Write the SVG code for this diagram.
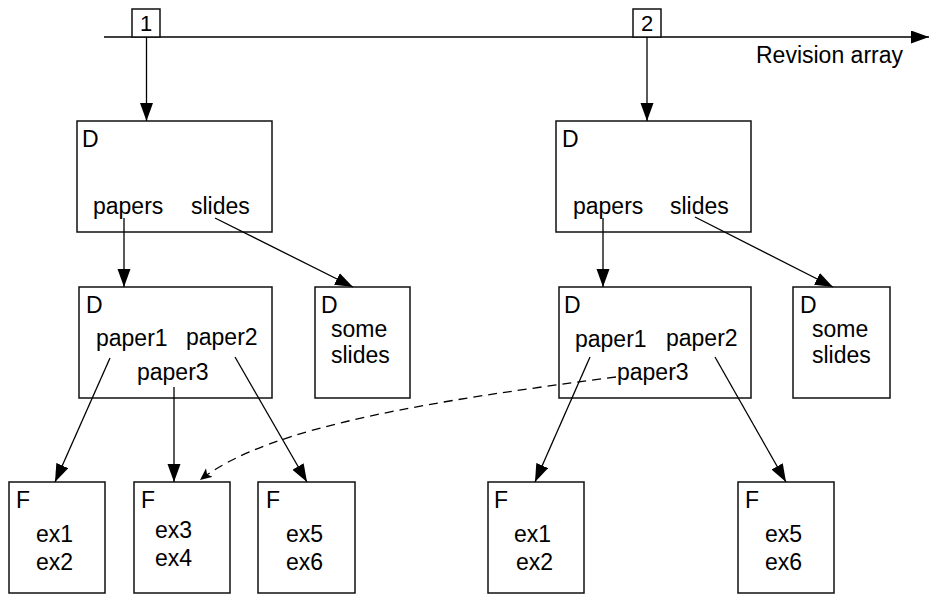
<svg xmlns="http://www.w3.org/2000/svg" width="930" height="594" viewBox="0 0 930 594">
  <style>
    .box { fill: #fff; stroke: #111; stroke-width: 1.5; }
    .lbl { font-family: "Liberation Sans", Arial, sans-serif; font-size: 23px; fill: #000; }
    .num { font-size: 22px; }
    .edge { fill: none; stroke: #000; stroke-width: 1.3; marker-end: url(#arrow); }
    .dash { fill: none; stroke: #000; stroke-width: 1.3; stroke-dasharray: 9 6; marker-end: url(#arrowSmall); }
  </style>
  <defs>
    <marker id="arrow" markerUnits="userSpaceOnUse" markerWidth="19" markerHeight="14" refX="18" refY="6.5" orient="auto">
      <path d="M0,0 L18,6.5 L0,13 z" fill="#000"/>
    </marker>
    <marker id="arrowSmall" markerUnits="userSpaceOnUse" markerWidth="14" markerHeight="12" refX="12" refY="5.5" orient="auto">
      <path d="M0,0 L12,5.5 L0,11 L3,5.5 z" fill="#000"/>
    </marker>
  </defs>
  <rect width="930" height="594" fill="#fff"/>

  <!-- revision array axis -->
  <g id="axis">
    <line class="edge" x1="104" y1="37" x2="929" y2="37"/>
    <text class="lbl" x="756" y="63">Revision array</text>
  </g>
  <g id="rev1">
    <rect class="box" x="132" y="9" width="28" height="28"/>
    <text class="lbl num" x="146" y="31" text-anchor="middle">1</text>
  </g>
  <g id="rev2">
    <rect class="box" x="633" y="9" width="28" height="28"/>
    <text class="lbl num" x="647" y="31" text-anchor="middle">2</text>
  </g>

  <!-- revision 1 tree -->
  <g id="r1-root">
    <rect class="box" x="77" y="121" width="195" height="111"/>
    <text class="lbl" x="82" y="147">D</text>
    <text class="lbl" x="93" y="214">papers</text>
    <text class="lbl" x="191" y="214">slides</text>
  </g>
  <g id="r1-papers">
    <rect class="box" x="79" y="287" width="193" height="111"/>
    <text class="lbl" x="86" y="313">D</text>
    <text class="lbl" x="96" y="346">paper1</text>
    <text class="lbl" x="186" y="345">paper2</text>
    <text class="lbl" x="137" y="380">paper3</text>
  </g>
  <g id="r1-slides">
    <rect class="box" x="315" y="287" width="95" height="111"/>
    <text class="lbl" x="321" y="313">D</text>
    <text class="lbl" x="331" y="337">some</text>
    <text class="lbl" x="331" y="363">slides</text>
  </g>
  <g id="r1-paper1">
    <rect class="box" x="9" y="482" width="96" height="111"/>
    <text class="lbl" x="16" y="508">F</text>
    <text class="lbl" x="36" y="542">ex1</text>
    <text class="lbl" x="36" y="570">ex2</text>
  </g>
  <g id="paper3-file">
    <rect class="box" x="134" y="482" width="96" height="111"/>
    <text class="lbl" x="141" y="508">F</text>
    <text class="lbl" x="155" y="538">ex3</text>
    <text class="lbl" x="155" y="566">ex4</text>
  </g>
  <g id="r1-paper2">
    <rect class="box" x="258" y="482" width="97" height="111"/>
    <text class="lbl" x="266" y="508">F</text>
    <text class="lbl" x="286" y="542">ex5</text>
    <text class="lbl" x="286" y="570">ex6</text>
  </g>

  <!-- revision 2 tree -->
  <g id="r2-root">
    <rect class="box" x="556" y="121" width="195" height="111"/>
    <text class="lbl" x="562" y="147">D</text>
    <text class="lbl" x="573" y="214">papers</text>
    <text class="lbl" x="670" y="214">slides</text>
  </g>
  <g id="r2-papers">
    <rect class="box" x="559" y="287" width="192" height="111"/>
    <text class="lbl" x="564" y="313">D</text>
    <text class="lbl" x="575" y="347">paper1</text>
    <text class="lbl" x="666" y="346">paper2</text>
    <text class="lbl" x="617" y="380">paper3</text>
  </g>
  <g id="r2-slides">
    <rect class="box" x="793" y="287" width="97" height="111"/>
    <text class="lbl" x="800" y="313">D</text>
    <text class="lbl" x="812" y="337">some</text>
    <text class="lbl" x="812" y="363">slides</text>
  </g>
  <g id="r2-paper1">
    <rect class="box" x="488" y="482" width="96" height="111"/>
    <text class="lbl" x="494" y="508">F</text>
    <text class="lbl" x="514" y="542">ex1</text>
    <text class="lbl" x="516" y="570">ex2</text>
  </g>
  <g id="r2-paper2">
    <rect class="box" x="738" y="482" width="96" height="111"/>
    <text class="lbl" x="745" y="508">F</text>
    <text class="lbl" x="765" y="542">ex5</text>
    <text class="lbl" x="765" y="570">ex6</text>
  </g>

  <!-- connectors -->
  <g id="connectors">
    <line class="edge" x1="146.5" y1="37" x2="146.5" y2="121"/>
    <line class="edge" x1="647" y1="37" x2="647" y2="121"/>
    <line class="edge" x1="124" y1="218" x2="124" y2="287"/>
    <line class="edge" x1="215" y1="218" x2="353" y2="287"/>
    <line class="edge" x1="603" y1="218" x2="603" y2="287"/>
    <line class="edge" x1="695" y1="217" x2="833" y2="287"/>
    <line class="edge" x1="110" y1="358" x2="55" y2="482"/>
    <line class="edge" x1="174" y1="387" x2="174" y2="482"/>
    <line class="edge" x1="235" y1="357" x2="307" y2="482"/>
    <line class="edge" x1="590" y1="357" x2="535" y2="482"/>
    <line class="edge" x1="715" y1="357" x2="786" y2="482"/>
    <path class="dash" d="M616,377 C440,400 270,425 200,480"/>
  </g>
</svg>
